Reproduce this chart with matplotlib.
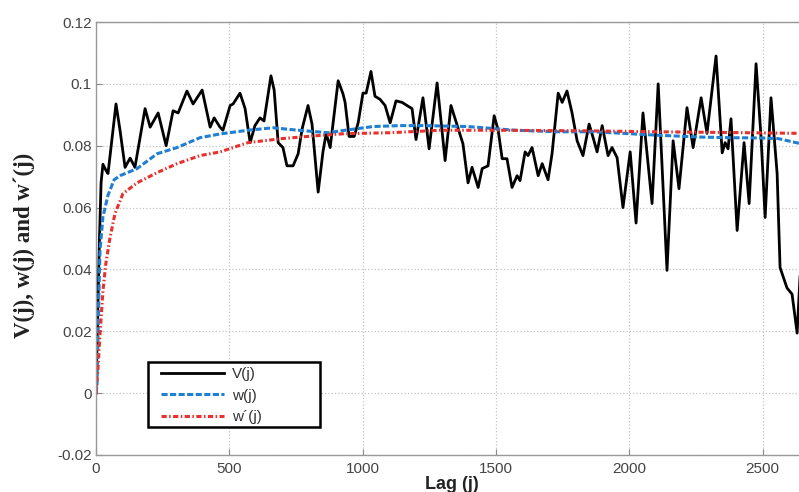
import matplotlib
matplotlib.use("Agg")
import matplotlib.pyplot as plt
from matplotlib.patches import Rectangle

plt.rcParams['font.family'] = ['Liberation Sans', 'DejaVu Sans']
plt.rcParams['axes.unicode_minus'] = False

# V(j): sample variogram by lag
lag_v = [0, 7.5, 13, 19, 26, 37.5, 45, 75, 90, 109, 128, 146, 184, 203, 233, 263,
         289, 308, 341, 364, 398, 428, 443, 465, 476, 503, 514, 540, 559, 578, 596,
         615, 630, 656, 668, 683, 701, 716, 739, 758, 773, 795, 810, 833, 851, 863,
         878, 908, 926, 934, 949, 968, 983, 1001, 1013, 1031, 1046, 1065, 1084, 1103,
         1125, 1148, 1166, 1185, 1200, 1226, 1249, 1279, 1309, 1331, 1358, 1376,
         1395, 1410, 1433, 1448, 1470, 1493, 1508, 1523, 1541, 1560, 1579, 1590,
         1609, 1620, 1635, 1658, 1673, 1695, 1710, 1733, 1748, 1766, 1785, 1804,
         1826, 1849, 1864, 1879, 1898, 1920, 1935, 1954, 1976, 2003, 2025, 2051,
         2085, 2108, 2141, 2164, 2186, 2216, 2239, 2269, 2291, 2325, 2348, 2359,
         2370, 2381, 2404, 2430, 2449, 2475, 2494, 2509, 2531, 2554, 2565, 2591,
         2610, 2629, 2640]
v_vals = [0, 0.030, 0.050, 0.068, 0.074, 0.072, 0.071, 0.0935, 0.085, 0.073, 0.076,
          0.073, 0.092, 0.086, 0.0906, 0.080, 0.0913, 0.0906, 0.0977, 0.0935, 0.098,
          0.086, 0.089, 0.086, 0.085, 0.093, 0.0935, 0.097, 0.092, 0.081, 0.0865,
          0.089, 0.088, 0.1026, 0.098, 0.081, 0.0794, 0.0735, 0.0735, 0.0774, 0.0855,
          0.093, 0.087, 0.065, 0.078, 0.084, 0.0794, 0.101, 0.0968, 0.094, 0.083,
          0.083, 0.0874, 0.097, 0.097, 0.104, 0.096, 0.095, 0.093, 0.0874, 0.0945,
          0.094, 0.093, 0.092, 0.082, 0.0955, 0.079, 0.1003, 0.0752, 0.093, 0.0855,
          0.0806, 0.068, 0.073, 0.0665, 0.0726, 0.0735, 0.0897, 0.085, 0.0758,
          0.0758, 0.0665, 0.0703, 0.0687, 0.078, 0.0768, 0.0794, 0.0703, 0.0742,
          0.069, 0.0774, 0.097, 0.094, 0.0977, 0.0906, 0.0816, 0.0768, 0.087,
          0.0826, 0.078, 0.0865, 0.0768, 0.0794, 0.0761, 0.060, 0.078, 0.055,
          0.0906, 0.0613, 0.100, 0.0397, 0.0816, 0.0661, 0.0923, 0.0794, 0.0955,
          0.084, 0.109, 0.0777, 0.081, 0.079, 0.0887, 0.0526, 0.081, 0.0613, 0.1065,
          0.0823, 0.0568, 0.0955, 0.071, 0.0406, 0.034, 0.032, 0.0194, 0.038]

# w(j)
lag_w = [0, 4, 9, 15, 26, 45, 68, 90, 154, 229, 304, 390, 465, 570, 664, 758, 870,
         934, 1039, 1140, 1226, 1395, 1571, 1733, 1864, 1976, 2104, 2265, 2370,
         2498, 2558, 2640]
w_vals = [0, 0.003, 0.025, 0.046, 0.057, 0.064, 0.069, 0.0703, 0.0726, 0.0774,
          0.0794, 0.0826, 0.0838, 0.085, 0.0858, 0.085, 0.0842, 0.085, 0.0862,
          0.0865, 0.0865, 0.0862, 0.085, 0.0845, 0.0845, 0.084, 0.0834, 0.0828,
          0.0826, 0.0825, 0.0823, 0.0807]

# w'(j)
lag_wp = [0, 7.5, 15, 26, 37, 52, 71, 101, 154, 229, 304, 390, 465, 570, 698, 821,
          934, 1103, 1290, 1515, 1853, 2104, 2340, 2640]
wp_vals = [0, 0.008, 0.019, 0.033, 0.042, 0.050, 0.058, 0.0645, 0.068, 0.0713,
           0.0742, 0.0768, 0.078, 0.081, 0.0823, 0.0832, 0.0839, 0.0842, 0.085,
           0.085, 0.0848, 0.0845, 0.0843, 0.084]

fig = plt.figure(figsize=(7.99, 4.92), dpi=100)
ax = fig.add_axes([96 / 799, 37 / 492, 703 / 799, 433 / 492])

ax.plot(lag_v, v_vals, color='black', lw=2.0, solid_joinstyle='round',
        label='V(j)')
ax.plot(lag_w, w_vals, color='#1f7fd2', lw=2.2, dashes=(2.0, 0.8), label='w(j)')
ax.plot(lag_wp, wp_vals, color='#e8302c', lw=2.2, dashes=(1.7, 0.8, 0.5, 0.8),
        label='w´(j)')

ax.set_xlim(0, 2636)
ax.set_ylim(-0.02, 0.12)
ax.set_xticks([0, 500, 1000, 1500, 2000, 2500])
ax.set_yticks([-0.02, 0, 0.02, 0.04, 0.06, 0.08, 0.1, 0.12])
ax.set_yticklabels(['-0.02', '0', '0.02', '0.04', '0.06', '0.08', '0.1', '0.12'])

ax.grid(True, color='#c4c4c4', linestyle=':', lw=0.9)
ax.tick_params(direction='in', length=4, color='#888888', labelcolor='#444444',
               labelsize=11, pad=3)
ax.tick_params(axis='x', pad=5)
for s in ['left', 'top', 'bottom']:
    ax.spines[s].set_color('#999999')
    ax.spines[s].set_linewidth(1.0)
ax.spines['right'].set_visible(False)

fig.text(24 / 799, 1 - 245 / 492, 'V(j), w(j) and w´(j)', rotation=90,
         ha='center', va='center', family=['Liberation Serif', 'DejaVu Serif'],
         fontweight='bold', fontsize=16.5, color='#222222')
fig.text(452 / 799, 1 - 476 / 492, 'Lag (j)', ha='center', va='top',
         fontweight='bold', fontsize=13, color='#222222')

# legend box drawn separately so the entries sit inset from the frame
box = Rectangle((148 / 799, 1 - 427 / 492), 172 / 799, 65 / 492,
                transform=fig.transFigure, facecolor='white', edgecolor='black',
                lw=1.8, zorder=4.5, clip_on=False)
ax.add_artist(box)
leg = ax.legend(loc='upper left', bbox_to_anchor=(161 / 799, 1 - 367 / 492),
                bbox_transform=fig.transFigure, borderaxespad=0, borderpad=0,
                frameon=False, fontsize=11, handlelength=4.1,
                handletextpad=0.55, labelspacing=0.5)
leg.set_zorder(6)
for t in leg.get_texts():
    t.set_color('#333333')

fig.savefig('out.png', dpi=100)
